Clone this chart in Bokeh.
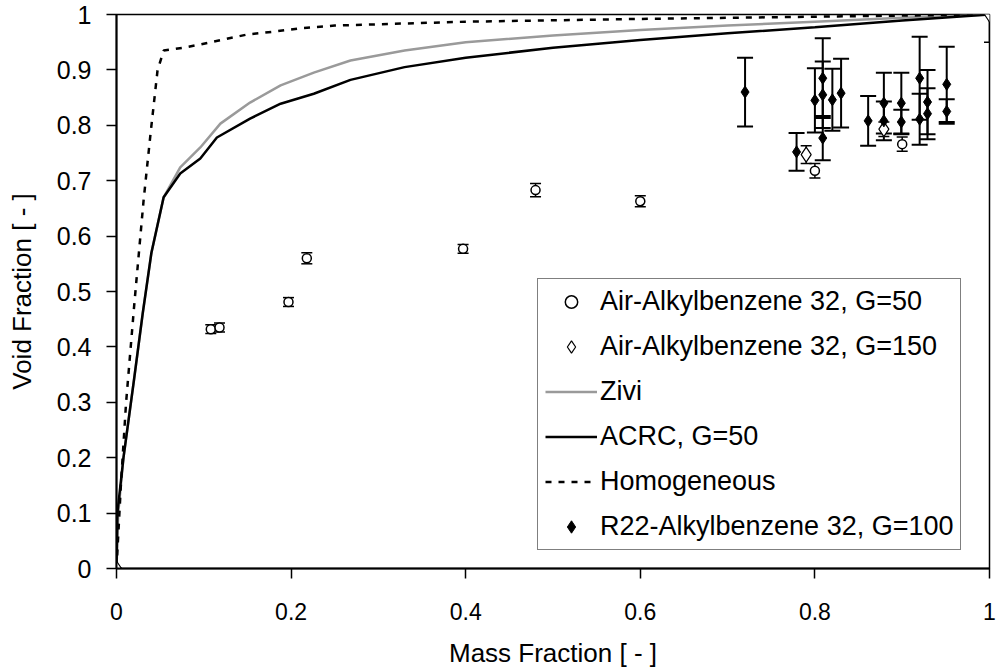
from bokeh.plotting import figure
from bokeh.models import (ColumnDataSource, Whisker, TeeHead, Legend, LegendItem,
                          Range1d, FixedTicker)
from bokeh.embed import file_html
from bokeh.resources import INLINE

FONT = "Liberation Sans"

# ---------------- data ----------------
x_ticks = [0, 0.2, 0.4, 0.6, 0.8, 1.0]
x_tick_labels = ["0", "0.2", "0.4", "0.6", "0.8", "1"]
y_ticks = [0, 0.1, 0.2, 0.3, 0.4, 0.5, 0.6, 0.7, 0.8, 0.9, 1.0]
y_tick_labels = ["0", "0.1", "0.2", "0.3", "0.4", "0.5", "0.6", "0.7", "0.8", "0.9", "1"]

air50_x = [0.108, 0.118, 0.197, 0.218, 0.397, 0.48, 0.60, 0.80, 0.90]
air50_y = [0.432, 0.435, 0.481, 0.560, 0.577, 0.683, 0.663, 0.718, 0.766]
air50_err = [0.008, 0.008, 0.008, 0.010, 0.008, 0.012, 0.010, 0.013, 0.013]

air150_x = [0.0, 0.79, 0.879, 1.0]
air150_y = [0.0, 0.747, 0.793, 1.0]
air150_err = [0.0, 0.016, 0.013, 0.05]

r22_x = [0.72, 0.779, 0.80, 0.809, 0.809, 0.809, 0.82, 0.83, 0.861, 0.879, 0.879,
         0.899, 0.899, 0.92, 0.92, 0.929, 0.929, 0.951, 0.951]
r22_y = [0.860, 0.752, 0.845, 0.885, 0.855, 0.777, 0.846, 0.858, 0.808, 0.840, 0.808,
         0.840, 0.806, 0.885, 0.811, 0.842, 0.821, 0.874, 0.825]
r22_err = [0.062, 0.034, 0.058, 0.072, 0.060, 0.040, 0.056, 0.062, 0.045, 0.055, 0.035,
           0.055, 0.022, 0.075, 0.046, 0.058, 0.046, 0.068, 0.022]

zivi_x = [0.0, 0.002, 0.008, 0.02, 0.03, 0.04, 0.054, 0.073, 0.096, 0.119, 0.153,
          0.188, 0.226, 0.268, 0.33, 0.40, 0.50, 0.60, 0.70, 0.80, 0.90, 1.0]
zivi_y = [0.0, 0.10, 0.20, 0.34, 0.46, 0.57, 0.670, 0.724, 0.760, 0.803, 0.841,
          0.872, 0.895, 0.917, 0.935, 0.950, 0.962, 0.972, 0.980, 0.987, 0.994, 1.0]

acrc_x = [0.0, 0.001, 0.008, 0.02, 0.03, 0.04, 0.054, 0.073, 0.096, 0.115, 0.153,
          0.188, 0.226, 0.268, 0.33, 0.40, 0.50, 0.60, 0.70, 0.80, 0.90, 1.0]
acrc_y = [0.0, 0.10, 0.20, 0.34, 0.46, 0.57, 0.670, 0.713, 0.740, 0.778, 0.812,
          0.839, 0.857, 0.882, 0.905, 0.922, 0.940, 0.954, 0.966, 0.977, 0.989, 1.0]

homo_x = [0.0, 0.005, 0.011, 0.02, 0.031, 0.039, 0.047, 0.054, 0.077, 0.096, 0.15,
          0.18, 0.21, 0.25, 0.40, 0.60, 0.80, 1.0]
homo_y = [0.0, 0.15, 0.30, 0.47, 0.664, 0.785, 0.899, 0.935, 0.940, 0.946, 0.964,
          0.969, 0.975, 0.980, 0.987, 0.992, 0.996, 1.0]

# ---------------- figure ----------------
p = figure(width=997, height=671, output_backend="svg", toolbar_location=None,
           x_range=Range1d(0, 1), y_range=Range1d(0, 1),
           min_border_left=116, min_border_right=8, min_border_top=14,
           min_border_bottom=103)
p.background_fill_color = "white"
p.border_fill_color = "white"
p.outline_line_color = "black"
p.outline_line_width = 1.5
p.grid.visible = False

for ax in (p.xaxis[0], p.yaxis[0]):
    ax.axis_line_color = "black"
    ax.axis_line_width = 2
    ax.major_tick_line_color = "black"
    ax.major_tick_line_width = 1.5
    ax.major_tick_in = 0
    ax.major_tick_out = 10
    ax.minor_tick_line_color = None
    ax.major_label_text_font = FONT
    ax.major_label_text_color = "black"
    ax.axis_label_text_font = FONT
    ax.axis_label_text_font_size = "26px"
    ax.axis_label_text_font_style = "normal"
    ax.axis_label_text_color = "black"

p.xaxis.major_label_text_font_size = "23px"
p.yaxis.major_label_text_font_size = "25px"
p.xaxis.ticker = FixedTicker(ticks=x_ticks)
p.xaxis.major_label_overrides = {t: l for t, l in zip(x_ticks, x_tick_labels)}
p.yaxis.ticker = FixedTicker(ticks=y_ticks)
p.yaxis.major_label_overrides = {t: l for t, l in zip(y_ticks, y_tick_labels)}
p.xaxis.axis_label = "Mass Fraction [ - ]"
p.yaxis.axis_label = "Void Fraction [ - ]"
p.xaxis.major_label_standoff = 24
p.yaxis.major_label_standoff = 15
p.xaxis.axis_label_standoff = 15
p.yaxis.axis_label_standoff = 17

# ---------------- curves ----------------
r_zivi = p.line(zivi_x, zivi_y, line_color="#9a9a9a", line_width=2.5)
r_acrc = p.line(acrc_x, acrc_y, line_color="black", line_width=2.5)
r_homo = p.line(homo_x, homo_y, line_color="black", line_width=2.5, line_dash="6 7")

# ---------------- error bars ----------------
def add_whisker(xs, ys, errs, head, width):
    src = ColumnDataSource(dict(x=xs,
                                upper=[y + e for y, e in zip(ys, errs)],
                                lower=[y - e for y, e in zip(ys, errs)]))
    w = Whisker(source=src, base="x", upper="upper", lower="lower",
                line_color="black", line_width=width,
                upper_head=TeeHead(size=head, line_color="black", line_width=width),
                lower_head=TeeHead(size=head, line_color="black", line_width=width))
    p.add_layout(w)

add_whisker(r22_x, r22_y, r22_err, 16, 2)
add_whisker(air50_x, air50_y, air50_err, 11, 1.5)
add_whisker(air150_x, air150_y, air150_err, 11, 1.5)

# ---------------- markers ----------------
r_air50 = p.scatter(air50_x, air50_y, marker="circle", size=9, fill_color="white",
                    line_color="black", line_width=1.5)
r_air150 = p.scatter(air150_x, air150_y, marker="diamond", size=15, fill_color="white",
                     line_color="black", line_width=1.2)
r_r22 = p.scatter(r22_x, r22_y, marker="diamond", size=12, fill_color="black",
                  line_color="black")

legend = Legend(items=[
    LegendItem(label="Air-Alkylbenzene 32, G=50", renderers=[r_air50]),
    LegendItem(label="Air-Alkylbenzene 32, G=150", renderers=[r_air150]),
    LegendItem(label="Zivi", renderers=[r_zivi]),
    LegendItem(label="ACRC, G=50", renderers=[r_acrc]),
    LegendItem(label="Homogeneous", renderers=[r_homo]),
    LegendItem(label="R22-Alkylbenzene 32, G=100", renderers=[r_r22]),
], location=(421, 18))
legend.label_text_font = FONT
legend.label_text_font_size = "27px"
legend.label_text_color = "black"
legend.glyph_width = 52
legend.glyph_height = 31
legend.label_height = 31
legend.label_standoff = 3
legend.spacing = 14
legend.padding = 7
legend.margin = 0
legend.border_line_color = "black"
legend.border_line_width = 1.5
legend.background_fill_alpha = 1.0
legend.background_fill_color = "white"
p.add_layout(legend, "center")

open("out.html", "w").write(file_html(p, INLINE))
